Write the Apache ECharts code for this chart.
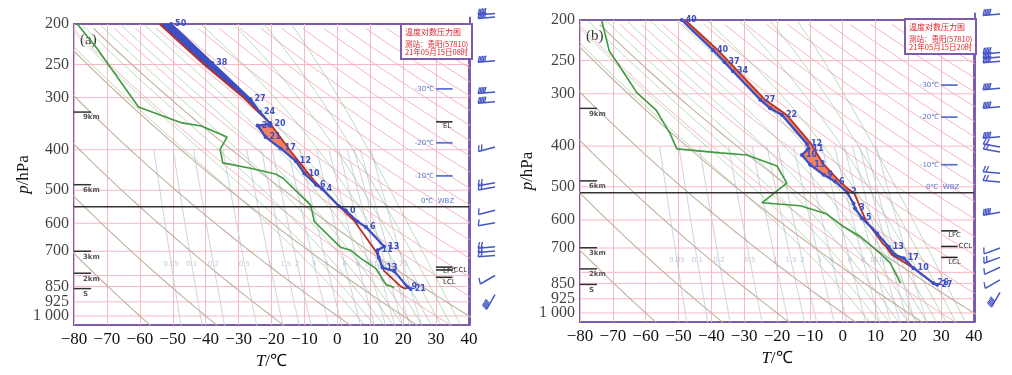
<!DOCTYPE html>
<html><head><meta charset="utf-8">
<script src="https://cdn.jsdelivr.net/npm/echarts@6/dist/echarts.min.js"></script>
<style>html,body{margin:0;padding:0;background:#fff}#c{width:1012px;height:375px}</style>
</head><body><div id="c"></div>
<script>
// ================= DATA =================
const pressureTicks = [200, 250, 300, 400, 500, 600, 700, 850, 925, 1000];
const isobarLevels = [250, 300, 400, 500, 600, 700, 800, 850, 925, 1000];
const dryThetaBrown = [-60, -40, -20, 0, 20, 40];
const dryThetaPink = [30, 50, 60, 70, 80, 90, 100, 110, 120, 130, 140, 150, 160, 170, 180, 190, 200];
const moistTw = [6, 9, 12, 15, 18, 21, 24, 27, 30, 33, 36];
const mixRatios = [0.05, 0.1, 0.2, 0.5, 1, 1.5, 2, 3, 4, 6, 8, 10, 12, 14, 16, 20];

// ---- panel (a) 2021-05-15 08h ----
const envA = [[-50.5,200,'50'],[-38,248,'38'],[-26.4,303,'27'],[-23.5,325,'24'],[-20.3,347,'20'],[-24.2,350,'24'],
  [-21.8,373,'21'],[-17.2,397,'17'],[-12.6,426,'12'],[-10.0,456,'10'],[-6.5,485,'6'],[-4.5,497,'4'],[0.5,546,''],
  [2.6,559,'0'],[6.1,594,''],[8.7,612,'6'],[14.2,682,'13'],[12.2,696,'11'],[12.6,725,''],[13.7,766,'13'],
  [17.3,781,''],[21.3,852,'9'],[22.3,862,'21']];
const parcelA = [[-54,200],[-40.5,250],[-28.5,300],[-20.3,347],[-14,405],[-7,475],[0.5,546],[5,590],[11.7,700],
  [14.2,780],[19.4,852],[21,862]];
const dewA = [[-79,200],[-73,229],[-60.4,316],[-47.2,345],[-41.3,351],[-33.5,373],[-35.6,399],[-34.8,430],
  [-26.4,443],[-18.8,457],[-16.5,468],[-8.1,543],[-7,594],[1,685],[4,696],[7,727],[11.7,769],[14.8,841],[17.3,855]];
const tempLevelsA = [['-30℃',286],['-20℃',385],['-10℃',462]];
const lineLevelsA = [['EL',343],['LFC',764],['CCL',776],['LCL',808]];
const wbzA = 548;
const heightsA = [['9km',325],['6km',485],['3km',700],['2km',790],['S',860]];
const barbsA = [[188.6,3,5],[192.4,3,5],[245,3,5],[291,3,5],[307,3,5],[394,2,15],[480,2,10],[491,2,10],
  [558,1,15],[598,1,10],[683,2,5],[699,2,5],[716,2,5],[800,1,30],[889,3,60]];

// ---- panel (b) 2021-05-15 20h ----
const envB = [[-49,200,'49'],[-39.5,236,'40'],[-36,252,'37'],[-33.4,265,'34'],[-25.1,310,'27'],[-22.1,325,''],
  [-18.5,337,'22'],[-10.9,395,'12'],[-10.4,405,'11'],[-12.4,420,'10'],[-9.9,443,'13'],[-5.8,468,'9'],
  [-2.3,486,'6'],[1.3,515,'2'],[3.3,548,''],[3.8,563,'3'],[5.9,594,'5'],[10.5,646,''],[14,695,'13'],
  [16,727,''],[18.6,740,'17'],[21.6,782,'10'],[27.7,850,'26'],[28.8,857,'27']];
const parcelB = [[-48,200],[-38,236],[-23.6,310],[-17,337],[-9.6,395],[-6,440],[-1.5,480],[1.5,505],[3.5,518],
  [7,600],[12.2,683],[13.2,695],[15,727],[17,742],[22,785],[27.7,850],[28.8,857]];
const dewB = [[-73.4,200],[-71.1,237],[-67.8,259],[-62.7,298],[-56.8,328],[-52.6,373],[-50.5,406],[-37.3,415],
  [-29.2,420],[-20,446],[-17,490],[-24.6,546],[-12.9,555],[-4.8,581],[0.3,623],[5.4,657],[11.5,722],
  [14.5,760],[17.6,849]];
const tempLevelsB = [['-30℃',286],['-20℃',341],['-10℃',443]];
const lineLevelsB = [['LFC',637],['CCL',694],['LCL',737]];
const wbzB = 517;
const heightsB = [['9km',325],['6km',484],['3km',699],['2km',785],['S',855]];
const barbsB = [[193.5,3,5],[239,3,5],[245,3,5],[251,3,5],[291,3,5],[322,3,5],[380,3,5],[402,2,-10],[413,2,-10],
  [464,2,-5],[487,2,-5],[575,3,10],[700,1,20],[737,2,20],[778,1,25],[834,1,30],[893,3,60]];

const titleTextA = '温度对数压力图';
const subTextA = '测站：贵阳(57810)\n21年05月15日08时';
const subTextB = '测站：贵阳(57810)\n21年05月15日20时';

// ================= HELPERS =================
const L = p => Math.log(p);
const PURPLE = '#7d5cad', PINK = '#f6b9c5', BLUE = '#3d4fc4', RED = '#b83128';
const RD = 287.04, CP = 1005.7, LV = 2.501e6, EPS = 0.622;
function es(tc){ return 6.112*Math.exp(17.67*tc/(tc+243.5)); }
function dryCurve(th){ const out=[]; for(let p=1060;p>=195;p-=15){ out.push([(th+273.15)*Math.pow(p/1000,0.2857)-273.15, L(p)]); } return out; }
function dTdp(T,p){ const e=es(T-273.15); const rs=EPS*e/(p-e); return (RD*T+LV*rs)/(p*(CP+LV*LV*rs*EPS/(RD*T*T))); }
function moistCurve(tw){
  let T=tw+273.15, p=1000; const dp=2;
  while(p<1060){ const k1=dTdp(T,p), k2=dTdp(T+k1*dp,p+dp); T+=0.5*(k1+k2)*dp; p+=dp; }
  const out=[];
  while(p>=195){ if(Math.round(p)%10===0) out.push([T-273.15, L(p)]); const k1=dTdp(T,p), k2=dTdp(T-k1*dp,p-dp); T-=0.5*(k1+k2)*dp; p-=dp; }
  return out;
}
function tdFromW(w,p){ const e=w*p/(622+w); const x=Math.log(e/6.112); return 243.5*x/(17.67-x); }
function mixCurve(w){ const out=[]; for(let p=1060;p>=400;p-=20){ out.push([tdFromW(w,p), L(p)]); } return out; }
function joinCurves(curves){ const d=[]; curves.forEach((c,i)=>{ if(i) d.push(['-','-']); c.forEach(pt=>d.push(pt)); }); return d; }
function between(a, b, pTop, pBot){
  const A=a.filter(d=>d[1]>=pTop&&d[1]<=pBot).map(d=>[d[0],L(d[1])]);
  const B=b.filter(d=>d[1]>=pTop&&d[1]<=pBot).map(d=>[d[0],L(d[1])]).reverse();
  return A.concat(B);
}
function bgLine(g, data, color, w, z){
  return {type:'line', xAxisIndex:g, yAxisIndex:g, data, showSymbol:false, symbol:'none', silent:true, animation:false,
    connectNulls:false, lineStyle:{color, width:w}, z:z||1};
}
function polySeries(g, pts, color){
  return {type:'custom', xAxisIndex:g, yAxisIndex:g, silent:true, animation:false, z:2, data:pts,
    renderItem:(params, api)=>{ if(params.dataIndex!==0) return null;
      return {type:'polygon', shape:{points:pts.map(d=>api.coord(d))}, style:{fill:color, stroke:color, lineWidth:0.5}}; }};
}
function segSeries(g, items, t1, t2, color, lw, textFn){
  return {type:'custom', xAxisIndex:g, yAxisIndex:g, silent:true, animation:false, z:6, clip:false,
    data: items.map(it=>[t1, L(it[1])]),
    renderItem:(params, api)=>{
      const it=items[params.dataIndex];
      const a=api.coord([t1, L(it[1])]), b=api.coord([t2, L(it[1])]);
      const ch=[{type:'line', shape:{x1:a[0],y1:a[1],x2:b[0],y2:b[1]}, style:{stroke:color, lineWidth:lw}}];
      const t=textFn(it,a,b); if(t) ch.push(t);
      return {type:'group', children:ch};
    }};
}
function txt(text,x,y,fill,align,valign,size,weight){
  return {type:'text', x, y, style:{text, fill, align, verticalAlign:valign, fontSize:size||7, fontWeight:weight||'normal', fontFamily:'DejaVu Sans'}};
}
function barbSeries(g, items){
  return {type:'custom', xAxisIndex:g, yAxisIndex:g, silent:true, animation:false, clip:false, z:5,
    data: items.map(it=>[1, L(it[0])]),
    renderItem:(params, api)=>{
      const it=items[params.dataIndex];
      const p0=api.coord([1, L(it[0])]); const x0=p0[0]-1, y0=p0[1];
      const a=it[2]*Math.PI/180, len=17;
      const dx=-Math.cos(a), dy=Math.sin(a);
      const px=-Math.sin(a), py=-Math.cos(a);
      const tx=x0+dx*len, ty=y0+dy*len;
      const col='#4656c6';
      const ch=[{type:'line', shape:{x1:x0,y1:y0,x2:tx,y2:ty}, style:{stroke:col, lineWidth:1.5}}];
      const n = it[1]===3?5:(it[1]===2?2:1), sp = it[1]===3?1.6:3;
      for(let i=0;i<n;i++){
        const bx=tx-dx*sp*i, by=ty-dy*sp*i;
        ch.push({type:'line', shape:{x1:bx,y1:by,x2:bx+px*6-dx*2,y2:by+py*6-dy*2}, style:{stroke:col, lineWidth:1.3}});
      }
      return {type:'group', children:ch};
    }};
}

// ================= BUILD =================
const grids = [
  {left:74, top:24, width:395, height:301},
  {left:580, top:20, width:394, height:302},
  {left:470, top:17.6, width:26, height:307.4},
  {left:975, top:13.5, width:26, height:308.5}
];
const xFmt = v => v<0 ? '\u2212'+(-v) : String(v);
const pFmt = p => p===1000 ? '1 000' : String(p);
const serif = 'Liberation Serif';

function mainX(g){ return {type:'value', gridIndex:g, min:-80, max:40, interval:10,
  axisLine:{show:false}, axisTick:{show:false},
  splitLine:{show:true, lineStyle:{color:PINK, width:1}},
  axisLabel:{formatter:xFmt, fontFamily:serif, fontSize:17, color:'#111', margin:6, hideOverlap:false},
  name:'{i|T}/℃', nameLocation:'middle', nameGap:26,
  nameTextStyle:{fontFamily:serif, fontSize:17, color:'#111', rich:{i:{fontStyle:'italic', fontFamily:serif, fontSize:17, color:'#111'}}}}; }
function mainY(g, gap){ return {type:'value', gridIndex:g, inverse:true, min:L(200), max:L(1051),
  axisLine:{show:false}, axisTick:{show:false}, splitLine:{show:false},
  axisLabel:{show:false},
  name:'{i|p}/hPa', nameLocation:'middle', nameGap:gap, nameRotate:90,
  nameTextStyle:{fontFamily:serif, fontSize:17, color:'#111', rich:{i:{fontStyle:'italic', fontFamily:serif, fontSize:17, color:'#111'}}}}; }
function barbX(g){ return {type:'value', gridIndex:g, min:0, max:1, show:false}; }
function barbY(g){ return {type:'value', gridIndex:g, inverse:true, min:L(193), max:L(1051), position:'right',
  axisLine:{show:true, lineStyle:{color:PURPLE, width:2}}, axisTick:{show:false}, axisLabel:{show:false}, splitLine:{show:false}}; }

function panel(g, bg, d){
  const s=[];
  const isob = joinCurves(isobarLevels.map(p=>[[-80,L(p)],[40,L(p)]]));
  s.push(bgLine(g, isob, PINK, 1, 1));
  s.push(bgLine(g, joinCurves(mixRatios.map(mixCurve)), '#c6cddd', 0.9, 1));
  s.push(bgLine(g, joinCurves(dryThetaPink.map(dryCurve)), '#f2aebb', 0.9, 1));
  s.push(bgLine(g, joinCurves(moistTw.map(moistCurve)), 'rgba(130,190,130,0.6)', 0.9, 1));
  s.push(bgLine(g, joinCurves(dryThetaBrown.map(dryCurve)), '#c2b09e', 1.1, 1));
  // pressure tick labels along the left edge
  s.push({type:'scatter', xAxisIndex:g, yAxisIndex:g, silent:true, animation:false, symbolSize:0, z:7, clip:false,
    data: pressureTicks.map(p=>({value:[-80, L(p)], label:{show:true, formatter:pFmt(p)}})),
    label:{position:'left', distance:5, color:'#111', fontSize:16, fontFamily:serif}});
  s.push({type:'scatter', xAxisIndex:g, yAxisIndex:g, silent:true, animation:false, symbolSize:0, z:2,
    data: mixRatios.map(w=>({value:[tdFromW(w,750), L(750)], label:{show:true, formatter:String(w)}})),
    label:{position:'inside', color:'#b4bccf', fontSize:7, fontFamily:'DejaVu Sans'}});
  d.fills.forEach(f=>s.push(polySeries(g, f[0], f[1])));
  s.push(bgLine(g, d.dew.map(q=>[q[0],L(q[1])]), '#3d9a3d', 1.6, 3));
  s.push(bgLine(g, d.parcel.map(q=>[q[0],L(q[1])]), RED, 1.8, 3));
  s.push({type:'line', xAxisIndex:g, yAxisIndex:g, silent:true, animation:false, z:4,
    data: d.env.map(q=>({value:[q[0],L(q[1])], label:{show:!!q[2], formatter:q[2]||''}})),
    symbol:'circle', symbolSize:4, showSymbol:true, itemStyle:{color:BLUE}, lineStyle:{color:BLUE, width:2.3},
    label:{position:'right', distance:2, color:BLUE, fontSize:8, fontWeight:'bold', fontFamily:'DejaVu Sans'}});
  s.push(segSeries(g, [['WBZ', d.wbz]], -80, 40, '#333', 1.5, (it,a,b)=>{
    const q = a[0] + (b[0]-a[0])*(115.5/120);
    return txt('0℃  WBZ', q, a[1]-2, '#5b76cf', 'right', 'bottom', 7);
  }));
  s.push(segSeries(g, d.temps, 30, 35, '#5b76cf', 1.8, (it,a)=>txt(it[0], a[0]-2, a[1], '#5b76cf', 'right', 'middle', 7)));
  s.push(segSeries(g, d.levels, 30, 35, '#222', 1.5, (it,a,b)=>{
    if(it[0]==='CCL') return txt('CCL', b[0]+1, a[1], '#333', 'left', 'middle', 7);
    return txt(it[0], a[0]+7, a[1]+1, '#333', 'left', 'top', 7);
  }));
  s.push(segSeries(g, d.heights, -80, -74.8, '#333', 1.5, (it,a)=>txt(it[0], a[0]+9, a[1]+2, '#555', 'left', 'top', 7, 'bold')));
  s.push(barbSeries(bg, d.barbs));
  return s;
}

const series = [].concat(
  panel(0, 2, {env:envA, parcel:parcelA, dew:dewA, wbz:wbzA, temps:tempLevelsA, levels:lineLevelsA, heights:heightsA, barbs:barbsA,
    fills:[[between(parcelA, envA, 347, 546), '#f08262'], [between(envA, parcelA, 200, 347), '#3d4fc4']]}),
  panel(1, 3, {env:envB, parcel:parcelB, dew:dewB, wbz:wbzB, temps:tempLevelsB, levels:lineLevelsB, heights:heightsB, barbs:barbsB,
    fills:[[between(parcelB, envB, 200, 518), '#f08262'], [between(parcelB, envB, 695, 742), '#5d7a5d']]})
);

function titleBox(left, top, sub){
  return {text:titleTextA, subtext:sub, left, top, padding:[4,4,3,4], itemGap:4, textAlign:'left',
    backgroundColor:'#fff', borderColor:PURPLE, borderWidth:2,
    textStyle:{fontSize:8, color:'#e2222b', fontWeight:'normal', fontFamily:'Noto Sans CJK SC'},
    subtextStyle:{fontSize:7.5, color:'#e2222b', lineHeight:8, fontFamily:'Noto Sans CJK SC'}};
}

const chart = echarts.init(document.getElementById('c'), null, {renderer:'canvas'});
chart.setOption({
  animation:false,
  backgroundColor:'#fff',
  title:[titleBox(401, 24, subTextA), titleBox(905, 19, subTextB)],
  grid: grids.map((g,i)=>Object.assign({}, g, i<2 ? {show:true, borderColor:PURPLE, borderWidth:2} : {})),
  xAxis:[mainX(0), mainX(1), barbX(2), barbX(3)],
  yAxis:[mainY(0, 42), mainY(1, 44), barbY(2), barbY(3)],
  graphic:[
    {type:'text', left:80, top:33, style:{text:'(a)', fontSize:15, fontFamily:serif, fill:'#333'}},
    {type:'text', left:586, top:29, style:{text:'(b)', fontSize:15, fontFamily:serif, fill:'#333'}}
  ],
  series
});
</script></body></html>
